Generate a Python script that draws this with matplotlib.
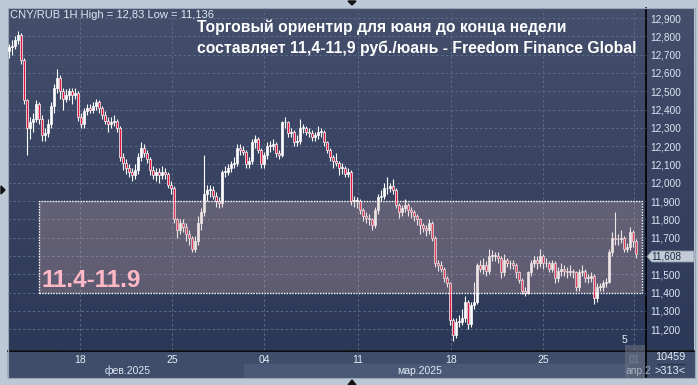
import numpy as np
import matplotlib
matplotlib.use('Agg')
import matplotlib.pyplot as plt
from matplotlib.patches import Rectangle, Polygon
from matplotlib.colors import LinearSegmentedColormap

# ---------------- data (hourly candles CNY/RUB) ----------------
first_open = 12.72
closes = [
    12.74, 12.75, 12.78, 12.81, 12.67, 12.45, 12.30, 12.33, 12.35, 12.43,
    12.35, 12.26, 12.27, 12.32, 12.42, 12.52, 12.57, 12.50, 12.46, 12.48,
    12.50, 12.48, 12.49, 12.36, 12.32, 12.39, 12.41, 12.40, 12.42, 12.44,
    12.41, 12.37, 12.34, 12.32, 12.33, 12.34, 12.30, 12.14, 12.11, 12.08,
    12.06, 12.04, 12.07, 12.14, 12.19, 12.16, 12.13, 12.07, 12.04, 12.06,
    12.04, 12.06, 12.05, 11.99, 11.97, 11.80, 11.74, 11.78, 11.76, 11.72,
    11.70, 11.64, 11.68, 11.78, 11.84, 11.94, 11.96, 11.96, 11.93, 11.90,
    11.89, 12.06, 12.06, 12.08, 12.10, 12.11, 12.19, 12.18, 12.17, 12.10,
    12.12, 12.22, 12.24, 12.18, 12.10, 12.15, 12.20, 12.20, 12.21, 12.16,
    12.15, 12.33, 12.33, 12.27, 12.28, 12.22, 12.23, 12.30, 12.30, 12.28,
    12.27, 12.25, 12.26, 12.28, 12.28, 12.22, 12.18, 12.14, 12.12, 12.11,
    12.08, 12.08, 12.05, 12.06, 11.90, 11.90, 11.90, 11.85, 11.82, 11.81,
    11.80, 11.77, 11.85, 11.92, 11.93, 11.97, 11.97, 11.98, 11.96, 11.88,
    11.84, 11.86, 11.88, 11.85, 11.84, 11.82, 11.80, 11.77, 11.75, 11.74,
    11.78, 11.70, 11.56, 11.55, 11.53, 11.48, 11.45, 11.25, 11.17, 11.24,
    11.24, 11.26, 11.35, 11.23, 11.33, 11.35, 11.55, 11.53, 11.55, 11.52,
    11.60, 11.60, 11.60, 11.59, 11.51, 11.58, 11.56, 11.56, 11.55, 11.51,
    11.47, 11.41, 11.40, 11.51, 11.56, 11.58, 11.56, 11.60, 11.56, 11.56,
    11.53, 11.56, 11.48, 11.52, 11.53, 11.52, 11.51, 11.52, 11.51, 11.43,
    11.51, 11.52, 11.48, 11.48, 11.49, 11.37, 11.43, 11.43, 11.45, 11.46,
    11.62, 11.70, 11.69, 11.69, 11.70, 11.64, 11.65, 11.73, 11.68, 11.608,
]
highs = [
    12.76, 12.78, 12.80, 12.83, 12.82, 12.68, 12.46, 12.36, 12.38, 12.45,
    12.44, 12.37, 12.30, 12.35, 12.44, 12.54, 12.62, 12.59, 12.52, 12.51,
    12.52, 12.52, 12.52, 12.50, 12.38, 12.41, 12.43, 12.43, 12.44, 12.46,
    12.45, 12.42, 12.39, 12.36, 12.36, 12.37, 12.35, 12.31, 12.16, 12.13,
    12.10, 12.08, 12.10, 12.16, 12.22, 12.21, 12.18, 12.14, 12.09, 12.08,
    12.08, 12.09, 12.08, 12.06, 12.01, 11.98, 11.81, 11.80, 11.80, 11.78,
    11.74, 11.71, 11.71, 11.82, 11.86, 12.15, 11.99, 11.99, 11.98, 11.95,
    11.92, 12.07, 12.09, 12.10, 12.12, 12.14, 12.21, 12.21, 12.20, 12.18,
    12.14, 12.24, 12.26, 12.25, 12.19, 12.17, 12.22, 12.23, 12.24, 12.22,
    12.18, 12.34, 12.36, 12.34, 12.30, 12.29, 12.26, 12.35, 12.32, 12.31,
    12.30, 12.29, 12.28, 12.31, 12.30, 12.29, 12.23, 12.19, 12.15, 12.16,
    12.12, 12.11, 12.09, 12.08, 12.07, 11.93, 11.92, 11.91, 11.86, 11.84,
    11.83, 11.81, 11.87, 11.94, 11.96, 12.00, 12.03, 12.00, 12.02, 11.97,
    11.89, 11.88, 11.91, 11.89, 11.87, 11.85, 11.83, 11.81, 11.78, 11.77,
    11.80, 11.79, 11.71, 11.58, 11.57, 11.54, 11.49, 11.46, 11.26, 11.26,
    11.28, 11.31, 11.38, 11.36, 11.35, 11.46, 11.56, 11.58, 11.59, 11.57,
    11.64, 11.63, 11.62, 11.62, 11.60, 11.61, 11.59, 11.58, 11.58, 11.56,
    11.52, 11.48, 11.43, 11.52, 11.58, 11.60, 11.60, 11.64, 11.61, 11.59,
    11.57, 11.58, 11.57, 11.54, 11.56, 11.55, 11.54, 11.55, 11.53, 11.52,
    11.53, 11.55, 11.53, 11.50, 11.51, 11.50, 11.45, 11.45, 11.47, 11.48,
    11.64, 11.73, 11.84, 11.72, 11.74, 11.71, 11.67, 11.76, 11.74, 11.69,
]
lows = [
    12.68, 12.70, 12.73, 12.76, 12.65, 12.43, 12.15, 12.24, 12.28, 12.33,
    12.32, 12.23, 12.23, 12.25, 12.30, 12.38, 12.49, 12.46, 12.40, 12.44,
    12.45, 12.43, 12.46, 12.34, 12.30, 12.30, 12.37, 12.38, 12.38, 12.40,
    12.38, 12.35, 12.32, 12.28, 12.30, 12.31, 12.28, 12.12, 12.07, 12.05,
    12.03, 12.01, 12.02, 12.05, 12.12, 12.14, 12.11, 12.04, 12.02, 12.01,
    12.00, 12.02, 12.02, 11.97, 11.94, 11.78, 11.70, 11.72, 11.73, 11.68,
    11.66, 11.62, 11.62, 11.66, 11.74, 11.82, 11.90, 11.92, 11.91, 11.87,
    11.86, 11.87, 12.03, 12.04, 12.06, 12.08, 12.09, 12.15, 12.15, 12.08,
    12.08, 12.10, 12.19, 12.16, 12.08, 12.08, 12.13, 12.17, 12.18, 12.14,
    12.13, 12.14, 12.30, 12.25, 12.25, 12.20, 12.20, 12.21, 12.27, 12.26,
    12.25, 12.23, 12.23, 12.24, 12.25, 12.20, 12.16, 12.12, 12.08, 12.09,
    12.04, 12.05, 12.03, 12.03, 11.88, 11.87, 11.86, 11.83, 11.79, 11.78,
    11.77, 11.74, 11.75, 11.83, 11.90, 11.91, 11.94, 11.95, 11.94, 11.86,
    11.81, 11.82, 11.84, 11.82, 11.81, 11.79, 11.77, 11.72, 11.73, 11.71,
    11.72, 11.68, 11.54, 11.52, 11.51, 11.46, 11.43, 11.22, 11.136, 11.15,
    11.21, 11.22, 11.24, 11.20, 11.21, 11.31, 11.34, 11.51, 11.50, 11.49,
    11.50, 11.57, 11.57, 11.56, 11.48, 11.49, 11.54, 11.53, 11.53, 11.48,
    11.45, 11.39, 11.38, 11.39, 11.49, 11.54, 11.53, 11.54, 11.53, 11.54,
    11.51, 11.51, 11.45, 11.46, 11.49, 11.49, 11.48, 11.49, 11.48, 11.41,
    11.41, 11.49, 11.46, 11.45, 11.46, 11.34, 11.35, 11.41, 11.41, 11.43,
    11.45, 11.60, 11.66, 11.66, 11.67, 11.62, 11.62, 11.63, 11.65, 11.59,
]
opens = [first_open] + closes[:-1]

price_levels = [11.2, 11.3, 11.4, 11.5, 11.6, 11.7, 11.8, 11.9, 12.0,
                12.1, 12.2, 12.3, 12.4, 12.5, 12.6, 12.7, 12.8, 12.9]
date_labels = ['18', '25', '04', '11', '18', '25', '01']
date_pos = [23.7, 54.3, 85.0, 116.3, 147.3, 178.0, 208.3]
month_labels = ['фев.2025', 'мар.2025', 'апр.2']
band_low, band_high = 11.4, 11.9
band_label = '11.4-11.9'
last_price = 11.608
info_text = 'CNY/RUB 1H High = 12,83 Low = 11,136'
title_lines = ['Торговый ориентир для юаня до конца недели',
               'составляет 11,4-11,9 руб./юань - Freedom Finance Global']
bar_count_top, bar_count_bottom = '10459', '>313<'

FONT = 'Liberation Sans'
plt.rcParams['font.family'] = [FONT, 'DejaVu Sans']

W, H = 698, 385
fig = plt.figure(figsize=(W / 100, H / 100), dpi=100)

# ---------------- background (pixel coordinates) ----------------
bg = fig.add_axes([0, 0, 1, 1], zorder=0)
bg.set_xlim(0, W); bg.set_ylim(H, 0); bg.axis('off')
bg.add_patch(Rectangle((0, 0), W, H, color='#bcc8d6', zorder=0))
grad = np.linspace(0, 1, 256).reshape(-1, 1)
cmap = LinearSegmentedColormap.from_list('g', ['#434f6b', '#2c3857'])
bg.imshow(grad, extent=(8, 694, 350, 8), cmap=cmap, aspect='auto', zorder=1)
# bottom axis band
bg.add_patch(Rectangle((8, 351), 686, 26, color='#3e4d69', zorder=2))
bg.add_patch(Rectangle((244, 364), 384, 13, color='#4a5975', zorder=3))
bg.plot([8, 694], [350.5, 350.5], color='black', lw=1.2, zorder=4)
bg.plot([646, 646], [8, 377], color='black', lw=1.2, zorder=4)
bg.plot([7.5, 694.5, 694.5, 7.5, 7.5], [7.5, 7.5, 377.5, 377.5, 7.5],
        color='#9aa6b6', lw=0.8, zorder=4)
# month labels
for lbl, xp in zip(month_labels[:2], [128, 420]):
    bg.text(xp, 371, lbl, color='#dfe8f5', fontsize=7.5, ha='center',
            va='center', zorder=5)

# ---------------- main price axes ----------------
ax = fig.add_axes([8 / W, 1 - 350 / H, (646 - 8) / W, (350 - 8) / H], zorder=2)
ax.set_facecolor('none')
ax.set_xlim(-0.33, 212.3)
ax.set_ylim(11.086, 12.955)
for s in ax.spines.values():
    s.set_visible(False)

for lv in price_levels:
    ax.axhline(lv, color='#5d6b88', lw=0.7, ls=(0, (2.5, 2.5)), zorder=0.5)
for xp in date_pos:
    ax.axvline(xp, color='#5d6b88', lw=0.7, ls=(0, (2.5, 2.5)), zorder=0.5)

idx = np.arange(len(closes))
o = np.array(opens); c = np.array(closes)
up = c >= o
ax.vlines(idx, lows, highs, color='white', lw=0.8, zorder=2)
body_low = np.minimum(o, c)
body_h = np.maximum(np.abs(c - o), 0.004)
ax.bar(idx[up], body_h[up], bottom=body_low[up], width=0.72,
       color='white', edgecolor='white', lw=0.5, zorder=2.2)
ax.bar(idx[~up], body_h[~up], bottom=body_low[~up], width=0.72,
       color='#e3153c', edgecolor='white', lw=0.5, zorder=2.2)

# target band
ax.add_patch(Rectangle((10, band_low), 201, band_high - band_low,
                       facecolor=(205 / 255, 169 / 255, 172 / 255), alpha=0.30,
                       edgecolor='none', zorder=3))
ax.add_patch(Rectangle((10, band_low), 201, band_high - band_low,
                       fill=False, edgecolor='white', lw=1.0,
                       ls=(0, (1, 1)), zorder=4))
ax.text(11, 11.428, band_label, color='#ffb8c6', fontsize=17.5,
        fontweight='bold', ha='left', va='baseline', zorder=5)

ax.yaxis.tick_right()
ax.set_yticks(price_levels)
ax.set_yticklabels(['{:d},{:03d}'.format(int(round(v * 1000)) // 1000,
                                         int(round(v * 1000)) % 1000)
                    for v in price_levels])
ax.tick_params(axis='y', length=0, pad=3, labelsize=7.2, labelcolor='#dce6f4')
ax.set_xticks(date_pos)
ax.set_xticklabels(date_labels)
ax.tick_params(axis='x', length=0, pad=3.5, labelsize=7.5, labelcolor='#e6eef8')
ax.get_xticklabels()[-1].set_color('#8d97a8')

# ---------------- overlay ----------------
ov = fig.add_axes([0, 0, 1, 1], zorder=5)
ov.set_xlim(0, W); ov.set_ylim(H, 0); ov.axis('off'); ov.set_facecolor('none')
ov.text(10, 18, info_text, color='#dfe8f5', fontsize=8.0, ha='left',
        va='baseline')
ov.text(197, 32, title_lines[0], color='white', fontsize=11.3,
        fontweight='bold', ha='left', va='baseline')
ov.text(197, 53, title_lines[1], color='white', fontsize=11.3,
        fontweight='bold', ha='left', va='baseline')
# price tag
ty = 256.5
ov.add_patch(Polygon([(647, ty), (652, ty - 5.5), (694, ty - 5.5),
                      (694, ty + 5.5), (652, ty + 5.5)],
                     closed=True, facecolor='#c3ccd6', edgecolor='#8d99a8',
                     lw=0.6))
ov.text(651, ty + 0.3, '11,608', color='#1c2b44', fontsize=7.2, ha='left',
        va='center')
# apr label box (partially hidden)
ov.add_patch(Rectangle((625, 345), 20, 33, facecolor='#6a7384', alpha=0.55,
                       edgecolor='none'))
ov.text(638, 371, month_labels[2], color='#a9b2c0', fontsize=7.5,
        ha='center', va='center', clip_on=True)
ov.text(624, 343, '5', color='#e6eef8', fontsize=7.5, ha='center',
        va='baseline')
# bar counters
ov.text(670, 357.5, bar_count_top, color='#e2ebf7', fontsize=7.8,
        ha='center', va='center')
ov.plot([657, 684], [364, 364], color='#27344d', lw=0.8)
ov.text(670, 370.5, bar_count_bottom, color='#e2ebf7', fontsize=7.8,
        ha='center', va='center')
# small navigation triangles
ov.add_patch(Polygon([(348, 1), (356, 1), (352, 5)], color='#111111'))
ov.add_patch(Polygon([(348, 385), (356, 385), (352, 380)], color='#111111'))
ov.add_patch(Polygon([(1, 186), (1, 194), (5, 190)], color='#111111'))

fig.savefig('out.png', dpi=100)
